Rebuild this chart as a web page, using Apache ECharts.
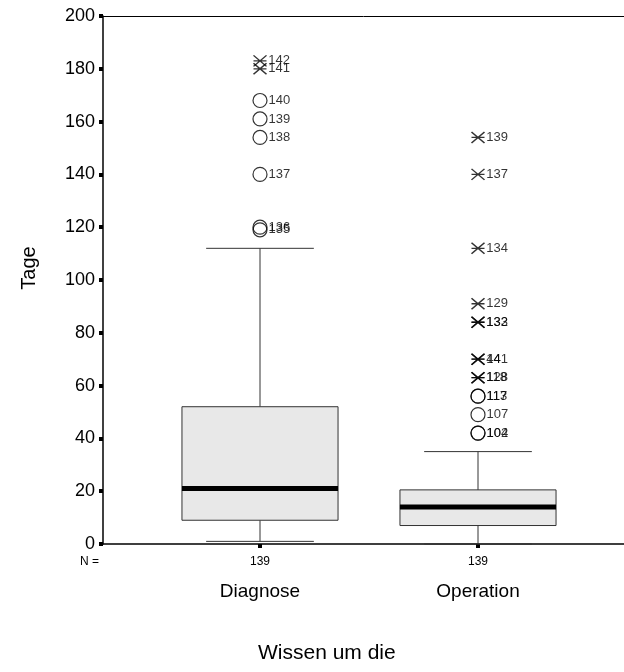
<!DOCTYPE html>
<html>
<head>
<meta charset="utf-8">
<script src="https://cdn.jsdelivr.net/npm/echarts@6/dist/echarts.min.js"></script>
<style>
html, body { margin: 0; padding: 0; background: #fff; }
#chart { width: 624px; height: 672px; }
</style>
</head>
<body>
<div id="chart"></div>
<script>
// Kategorien und Fallzahlen
const categories = ['Diagnose', 'Operation'];
const nCounts = [139, 139];

// Boxplot-Kennwerte in Tagen
const whiskerLow = [1, 0];
const quartile1 = [9, 7];
const medians = [21, 14];
const quartile3 = [52, 20.5];
const whiskerHigh = [112, 35];

// Ausreisser (Kreis): [Kategorie-Index, Tage, Fallnummer]
const outliers = [
    [0, 168, '140'], [0, 161, '139'], [0, 154, '138'], [0, 140, '137'],
    [0, 120, '136'], [0, 119, '135'],
    [1, 56, '113'], [1, 56, '117'], [1, 49, '107'], [1, 42, '102'], [1, 42, '104']
];

// Extremwerte (Stern)
const extremes = [
    [0, 183, '142'], [0, 180, '141'],
    [1, 154, '139'], [1, 140, '137'], [1, 112, '134'], [1, 91, '129'],
    [1, 84, '132'], [1, 84, '133'], [1, 70, '141'], [1, 70, '44'],
    [1, 63, '128'], [1, 63, '118']
];

// y-Achse
const yMin = 0;
const yMax = 200;
const yStep = 20;

const FONT = '"Liberation Sans", Arial, sans-serif';

function renderBox(params, api) {
    const idx = api.value(0);
    const band = api.size([1, 0])[0];
    const boxHalf = band * 0.358;
    const capHalf = band * 0.247;
    const pLow = api.coord([idx, api.value(1)]);
    const pQ1 = api.coord([idx, api.value(2)]);
    const pMed = api.coord([idx, api.value(3)]);
    const pQ3 = api.coord([idx, api.value(4)]);
    const pHigh = api.coord([idx, api.value(5)]);
    const x = pMed[0];
    const line = { stroke: '#333', lineWidth: 1 };
    return {
        type: 'group',
        children: [
            { type: 'line', shape: { x1: x, y1: pHigh[1], x2: x, y2: pQ3[1] }, style: line },
            { type: 'line', shape: { x1: x, y1: pQ1[1], x2: x, y2: pLow[1] }, style: line },
            { type: 'line', shape: { x1: x - capHalf, y1: pHigh[1], x2: x + capHalf, y2: pHigh[1] }, style: line },
            { type: 'line', shape: { x1: x - capHalf, y1: pLow[1], x2: x + capHalf, y2: pLow[1] }, style: line },
            {
                type: 'rect',
                shape: { x: x - boxHalf, y: pQ3[1], width: boxHalf * 2, height: pQ1[1] - pQ3[1] },
                style: { fill: '#e8e8e8', stroke: '#333', lineWidth: 1 }
            },
            {
                type: 'line',
                shape: { x1: x - boxHalf, y1: pMed[1], x2: x + boxHalf, y2: pMed[1] },
                style: { stroke: '#000', lineWidth: 5 }
            }
        ]
    };
}

const boxData = categories.map((c, i) => [i, whiskerLow[i], quartile1[i], medians[i], quartile3[i], whiskerHigh[i]]);

const pointLabel = {
    show: true,
    position: 'right',
    distance: 1,
    formatter: '{b}',
    fontSize: 13,
    color: '#000',
    fontFamily: FONT
};

var chartDom = document.getElementById('chart');
var myChart = echarts.init(chartDom);

const option = {
    animation: false,
    textStyle: { fontFamily: FONT },
    title: {
        text: 'Wissen um die',
        left: 258,
        top: 643,
        padding: 0,
        textStyle: { fontSize: 21, fontWeight: 'normal', color: '#000', fontFamily: FONT }
    },
    graphic: [
        { type: 'text', left: 80, top: 556, style: { text: 'N =', fontSize: 12, fill: '#000', fontFamily: FONT } }
    ],
    grid: [
        { left: 103, right: 0, top: 16, bottom: 128 },
        { left: 151, width: 436, top: 16, bottom: 128 }
    ],
    xAxis: [
        {
            gridIndex: 0, type: 'value', min: 0, max: 1, position: 'bottom',
            axisLine: { show: true, lineStyle: { color: '#000', width: 1.5 } },
            axisTick: { show: false }, axisLabel: { show: false }, splitLine: { show: false }
        },
        {
            gridIndex: 0, type: 'value', min: 0, max: 1, position: 'top',
            axisLine: { show: true, lineStyle: { color: '#000', width: 1 } },
            axisTick: { show: false }, axisLabel: { show: false }, splitLine: { show: false }
        },
        {
            gridIndex: 1, type: 'category', data: categories, boundaryGap: true,
            axisLine: { show: false },
            axisTick: { show: true, alignWithLabel: true, length: 4, lineStyle: { color: '#000', width: 4 } },
            axisLabel: {
                margin: 8,
                formatter: (v, i) => '{n|' + nCounts[i] + '}\n{c|' + v + '}',
                rich: {
                    n: { fontSize: 12, lineHeight: 20, color: '#000', fontFamily: FONT },
                    c: { fontSize: 19, lineHeight: 40, color: '#000', fontFamily: FONT }
                }
            }
        }
    ],
    yAxis: [
        {
            gridIndex: 0, type: 'value', min: yMin, max: yMax, interval: yStep,
            axisLine: { show: true, lineStyle: { color: '#000', width: 1.5 } },
            axisTick: { show: true, length: 4, lineStyle: { color: '#000', width: 4 } },
            axisLabel: { fontSize: 18, color: '#000', margin: 8, fontFamily: FONT },
            splitLine: { show: false },
            name: 'Tage',
            nameLocation: 'middle',
            nameGap: 64,
            nameTextStyle: { fontSize: 20, color: '#000', fontFamily: FONT, padding: [0, 0, 0, 24] }
        },
        {
            gridIndex: 1, type: 'value', min: yMin, max: yMax, show: false, splitLine: { show: false }
        }
    ],
    series: [
        {
            type: 'custom',
            xAxisIndex: 2,
            yAxisIndex: 1,
            renderItem: renderBox,
            encode: { x: 0, y: [1, 2, 3, 4, 5] },
            data: boxData,
            silent: true
        },
        {
            type: 'scatter',
            xAxisIndex: 2,
            yAxisIndex: 1,
            symbol: 'circle',
            symbolSize: 14,
            itemStyle: { color: 'rgba(0,0,0,0)', borderColor: '#000', borderWidth: 1.2 },
            label: pointLabel,
            data: outliers.map(o => ({ value: [o[0], o[1]], name: o[2] })),
            silent: true
        },
        {
            type: 'scatter',
            xAxisIndex: 2,
            yAxisIndex: 1,
            symbol: 'path://M0,0L12,10M12,0L0,10M0,5L12,5',
            symbolSize: [13, 11],
            itemStyle: { color: 'rgba(0,0,0,0)', borderColor: '#000', borderWidth: 1.4 },
            label: pointLabel,
            data: extremes.map(o => ({ value: [o[0], o[1]], name: o[2] })),
            silent: true
        }
    ]
};

option && myChart.setOption(option);
window.onresize = () => {
    myChart.resize();
};
</script>
</body>
</html>
